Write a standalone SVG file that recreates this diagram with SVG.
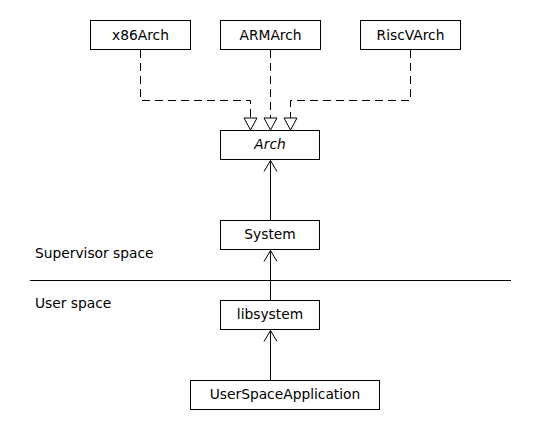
<svg xmlns="http://www.w3.org/2000/svg" width="550" height="430" viewBox="0 0 550 430">
  <style>
    .box { fill: #ffffff; stroke: #000000; stroke-width: 1; }
    .lbl { font-family: "DejaVu Sans", sans-serif; font-size: 13.8px; fill: #000000; text-anchor: middle; }
    .side { font-family: "DejaVu Sans", sans-serif; font-size: 13.8px; fill: #000000; }
    .dash { fill: none; stroke: #000000; stroke-width: 1; stroke-dasharray: 8,5; }
    .solid { fill: none; stroke: #000000; stroke-width: 1; }
  </style>
  <defs>
    <marker id="tri" markerUnits="userSpaceOnUse" orient="auto" refX="0" refY="0" markerWidth="20" markerHeight="20" overflow="visible">
      <path d="M-12,-6.5 L0,0 L-12,6.5 Z" fill="#ffffff" stroke="#000000" stroke-width="1" stroke-dasharray="none"/>
    </marker>
    <marker id="open" markerUnits="userSpaceOnUse" orient="auto" refX="0" refY="0" markerWidth="20" markerHeight="20" overflow="visible">
      <path d="M-11,-6.5 L0,0 L-11,6.5" fill="none" stroke="#000000" stroke-width="1"/>
    </marker>
  </defs>
  <rect width="550" height="430" fill="#ffffff"/>

  <g id="connectors">
    <path class="dash" d="M140.5,50 V100.5 H250.5 V130" marker-end="url(#tri)"/>
    <path class="dash" d="M270.5,50 V130" marker-end="url(#tri)"/>
    <path class="dash" d="M410.5,50 V100.5 H290.5 V130" marker-end="url(#tri)"/>
    <path class="solid" d="M270.5,220 V160.5" marker-end="url(#open)"/>
    <path class="solid" d="M270.5,300 V250.5" marker-end="url(#open)"/>
    <path class="solid" d="M270.5,380 V330.5" marker-end="url(#open)"/>
  </g>

  <g id="divider">
    <line class="solid" x1="30" y1="280.5" x2="511" y2="280.5"/>
    <text class="side" x="35" y="257.5">Supervisor space</text>
    <text class="side" x="35" y="307.5">User space</text>
  </g>

  <g id="x86Arch">
    <rect class="box" x="90.5" y="20.5" width="100" height="29"/>
    <text class="lbl" x="140.5" y="39.5">x86Arch</text>
  </g>
  <g id="ARMArch">
    <rect class="box" x="220.5" y="20.5" width="100" height="29"/>
    <text class="lbl" x="270.5" y="39.5">ARMArch</text>
  </g>
  <g id="RiscVArch">
    <rect class="box" x="360.5" y="20.5" width="100" height="29"/>
    <text class="lbl" x="410.5" y="39.5">RiscVArch</text>
  </g>
  <g id="Arch">
    <rect class="box" x="220.5" y="130.5" width="99" height="29"/>
    <text class="lbl" x="270" y="148.5" font-style="italic">Arch</text>
  </g>
  <g id="System">
    <rect class="box" x="220.5" y="220.5" width="99" height="29"/>
    <text class="lbl" x="270" y="239">System</text>
  </g>
  <g id="libsystem">
    <rect class="box" x="220.5" y="300.5" width="99" height="29"/>
    <text class="lbl" x="270" y="319">libsystem</text>
  </g>
  <g id="UserSpaceApplication">
    <rect class="box" x="190.5" y="380.5" width="189" height="29"/>
    <text class="lbl" x="285" y="399">UserSpaceApplication</text>
  </g>
</svg>
